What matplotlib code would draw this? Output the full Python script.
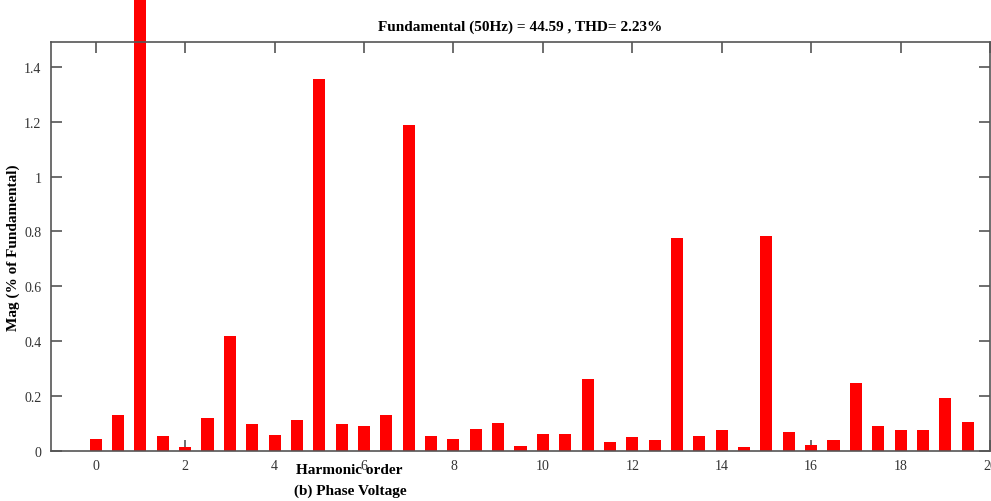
import numpy as np
import matplotlib.pyplot as plt

# harmonic spectrum of phase voltage, % of fundamental
orders = np.arange(0, 20, 0.5)
mag = [0.044, 0.132, 100.0, 0.053, 0.016, 0.119, 0.418, 0.100, 0.058, 0.112,
       1.355, 0.100, 0.092, 0.130, 1.186, 0.055, 0.044, 0.079, 0.103, 0.017,
       0.062, 0.062, 0.262, 0.032, 0.051, 0.041, 0.777, 0.053, 0.078, 0.015,
       0.785, 0.068, 0.023, 0.041, 0.248, 0.092, 0.078, 0.078, 0.194, 0.106]
xticks = np.arange(0, 21, 2)
yticks = [0, 0.2, 0.4, 0.6, 0.8, 1.0, 1.2, 1.4]
ytick_labels = ['0', '0.2', '0.4', '0.6', '0.8', '1', '1.2', '1.4']

plt.rcParams['font.family'] = ['Liberation Serif', 'DejaVu Serif']

fig = plt.figure(figsize=(9.91, 5.02), dpi=100)
ax = fig.add_axes([0.0515, 0.0996, 0.9475, 0.8147])

bars = ax.bar(orders, mag, width=0.27, color='#ff0000', zorder=2)
for b in bars:
    b.set_clip_on(False)

ax.set_xlim(-1, 20)
ax.set_ylim(0, 1.49)
ax.set_axisbelow(True)

ax.set_xticks(xticks)
ax.set_xticklabels([str(t) for t in xticks])
ax.set_yticks(yticks)
ax.set_yticklabels(ytick_labels)
ax.tick_params(direction='in', top=True, right=True, length=8, width=1.2,
               color='#555555', labelcolor='#333333', labelsize=10)
ax.tick_params(axis='x', pad=6)
ax.tick_params(axis='y', pad=7)
for s in ax.spines.values():
    s.set_color('#555555')
    s.set_linewidth(1.2)

fig.text(0.525, 0.945, 'Fundamental (50Hz) = 44.59 , THD= 2.23%', ha='center',
         va='center', fontsize=11, fontweight='bold')
ax.set_ylabel('Mag (% of Fundamental)', fontsize=11, fontweight='bold', labelpad=3)
fig.text(0.352, 0.063, 'Harmonic order', ha='center', va='center',
         fontsize=11, fontweight='bold')
fig.text(0.353, 0.022, '(b) Phase Voltage', ha='center', va='center',
         fontsize=11, fontweight='bold')

fig.savefig('out.png', dpi=100)
